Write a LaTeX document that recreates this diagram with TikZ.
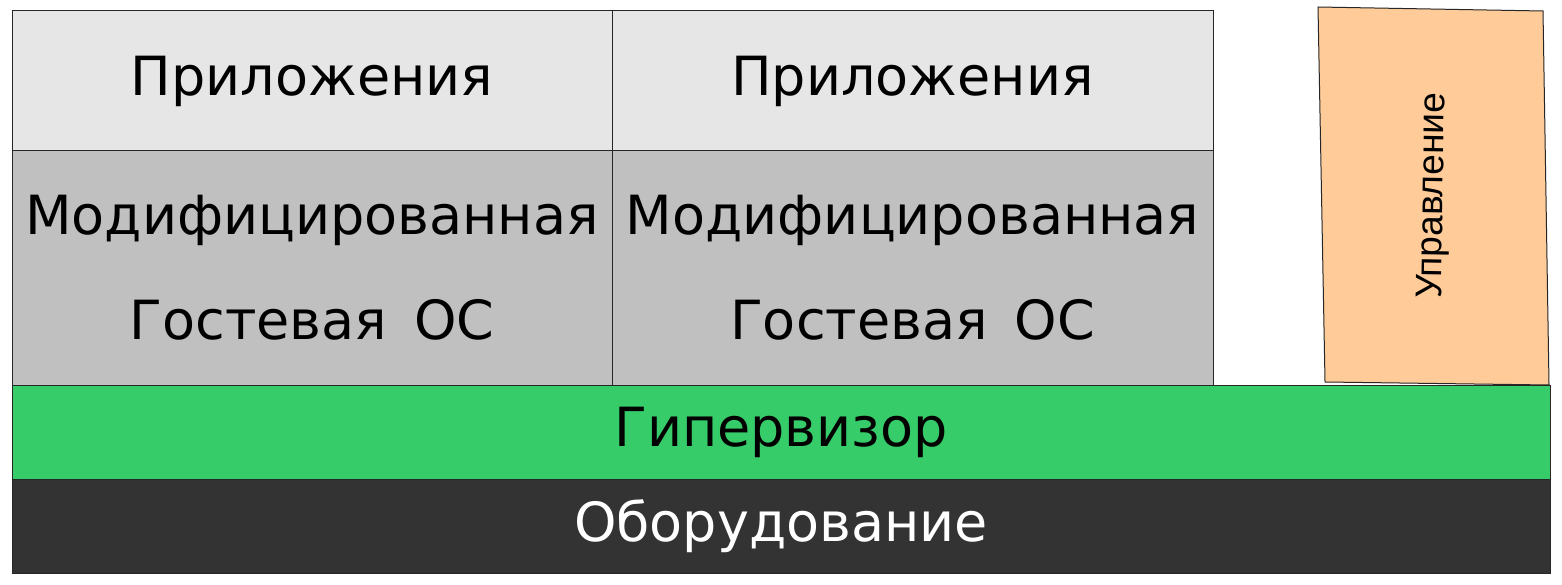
\documentclass[tikz,border=0pt]{standalone}
\usepackage{fontspec}
\setmainfont{DejaVu Sans}
\newfontfamily\ctrlfont{Liberation Sans}
\usepackage{xcolor}
\definecolor{appgray}{HTML}{E6E6E6}
\definecolor{osgray}{HTML}{C0C0C0}
\definecolor{hvgreen}{HTML}{36CC6A}
\definecolor{hwdark}{HTML}{333333}
\definecolor{ctrlorange}{HTML}{FFCC99}
\tikzset{
  layer/.style={draw=black!85,line width=1pt},
  big/.style={font=\fontsize{54}{105}\selectfont,align=center},
}
\begin{document}
\begin{tikzpicture}[x=1pt,y=-1pt]
  \useasboundingbox (0,0) rectangle (1562,585);
  % guests
  \draw[layer,fill=appgray] (12,11) rectangle (612,151)
    node[big,midway] (appA) {Приложения};
  \draw[layer,fill=appgray] (612,11) rectangle (1213,151)
    node[big,midway] (appB) {Приложения};
  \draw[layer,fill=osgray] (12,151) rectangle (612,385)
    node[big,midway] (osA) {Модифицированная\\Гостевая\hspace{0.5em}ОС};
  \draw[layer,fill=osgray] (612,151) rectangle (1213,385)
    node[big,midway] (osB) {Модифицированная\\Гостевая\hspace{0.5em}ОС};
  % base layers
  \draw[layer,fill=hvgreen] (12,385) rectangle (1550,479)
    node[big,midway] (hv) {Гипервизор};
  \draw[layer,fill=hwdark] (12,479) rectangle (1550,573)
    node[big,midway,text=white] (hw) {Оборудование};
  % control domain
  \draw[layer,fill=ctrlorange] (1318,7) -- (1543,11) -- (1549,385) -- (1325,382) -- cycle;
  \node[font=\ctrlfont\fontsize{37}{40}\selectfont,rotate=89] (ctrl) at (1434,196) {Управление};
\end{tikzpicture}
\end{document}
